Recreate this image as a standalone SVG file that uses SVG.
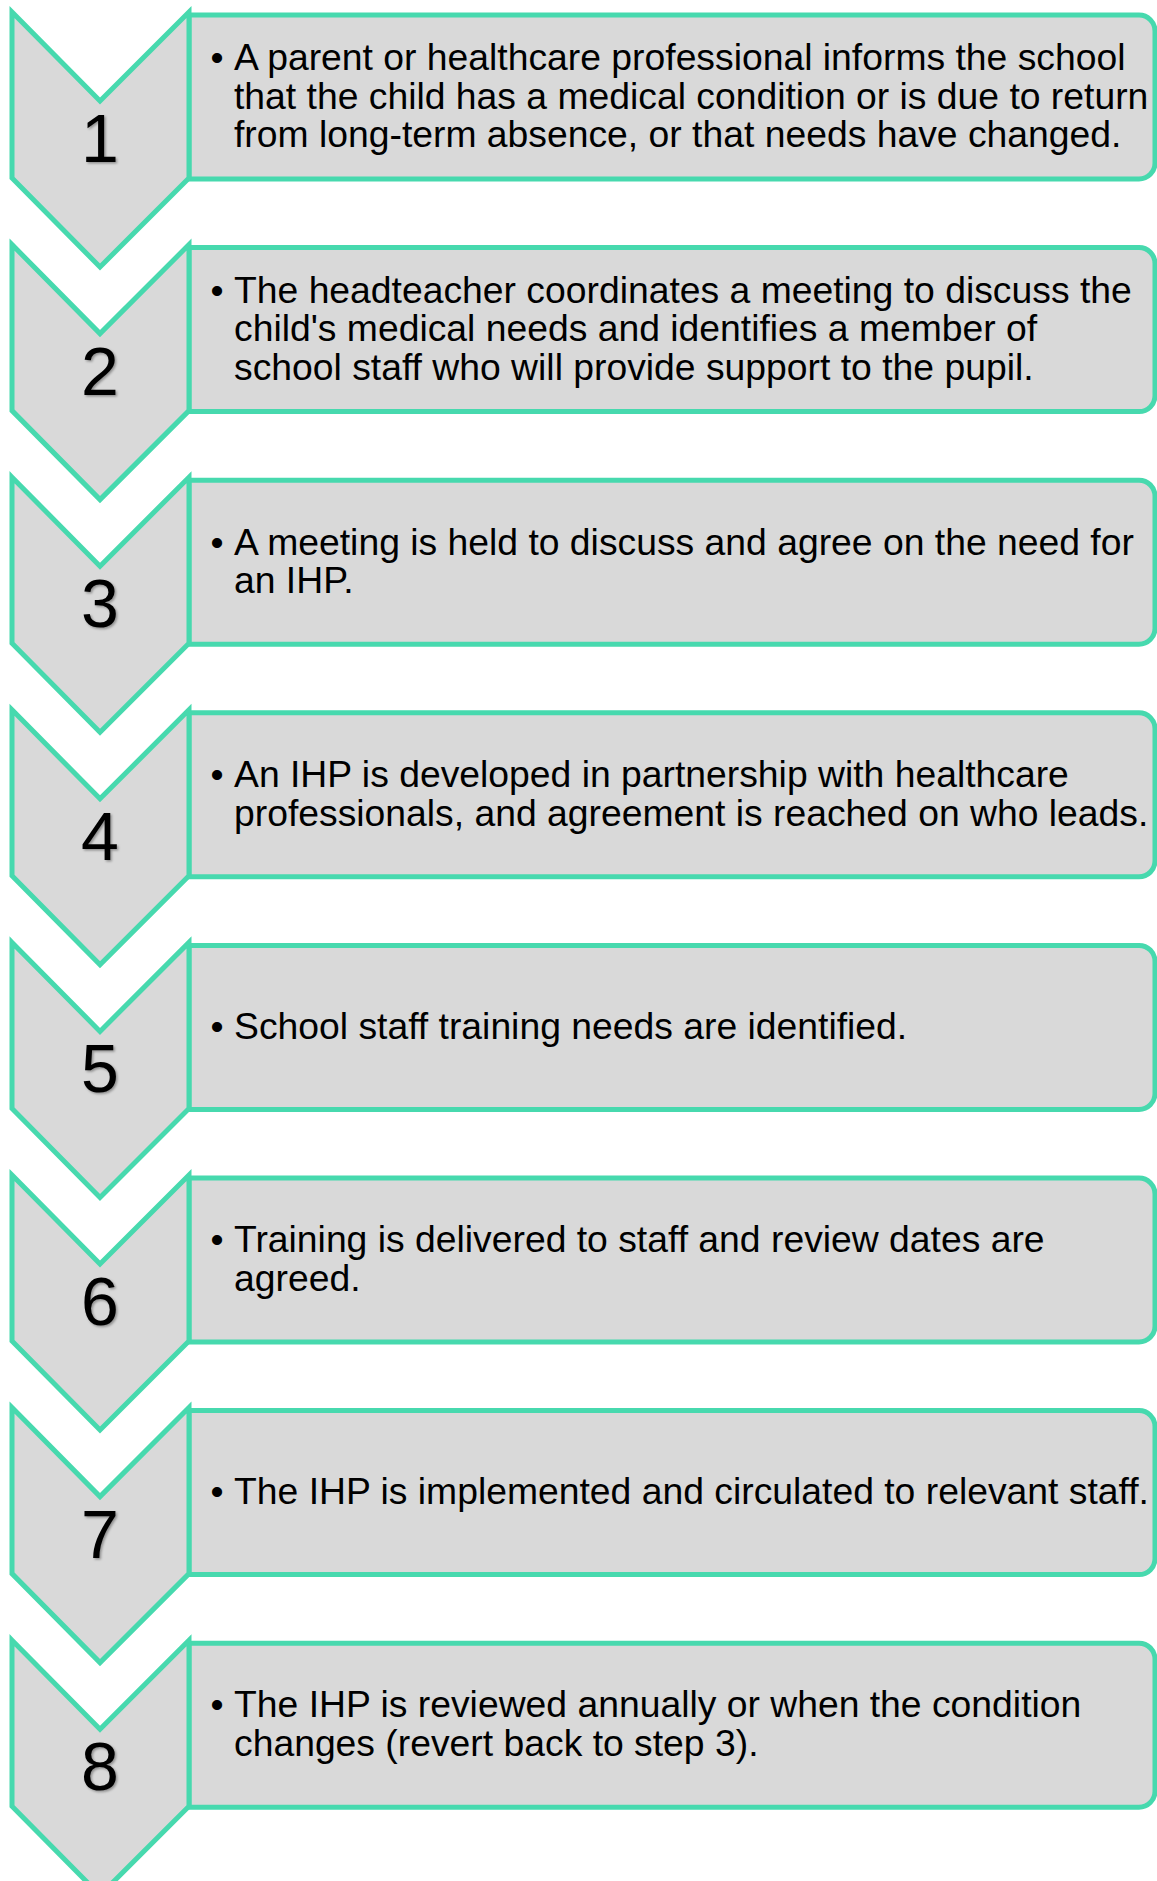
<svg xmlns="http://www.w3.org/2000/svg" xmlns:xlink="http://www.w3.org/1999/xlink" width="1157" height="1881" viewBox="0 0 1157 1881">
<style>
.shape{fill:#D9D9D9;stroke:#47D9AE;stroke-width:5;stroke-linejoin:miter}
.num{font-family:"Liberation Sans",Arial,sans-serif;font-size:68px;fill:#000;text-anchor:middle;filter:url(#sh)}
.t{font-family:"Liberation Sans",Arial,sans-serif;font-size:37.3px;fill:#000}
.b{font-family:"Liberation Sans",Arial,sans-serif;font-size:37.3px;fill:#000;text-anchor:middle}
</style>
<defs>
<filter id="sh" x="-20%" y="-20%" width="140%" height="140%">
<feDropShadow dx="1.5" dy="1.5" stdDeviation="1" flood-color="#000" flood-opacity="0.35"/>
</filter>
<path id="box" d="M189,3 H1139 A16,16 0 0 1 1155,19 V151 A16,16 0 0 1 1139,167 H189 Z"/>
<path id="chev" d="M12,0 L100,89 L189,0 L189,166 L100,255 L12,166 Z"/>
</defs>
<rect width="1157" height="1881" fill="#fff"/>

<g id="step1" transform="translate(0,12)">
<use xlink:href="#box" class="shape"/>
<use xlink:href="#chev" class="shape"/>
</g>
<g id="step2" transform="translate(0,244.6)">
<use xlink:href="#box" class="shape"/>
<use xlink:href="#chev" class="shape"/>
</g>
<g id="step3" transform="translate(0,477.2)">
<use xlink:href="#box" class="shape"/>
<use xlink:href="#chev" class="shape"/>
</g>
<g id="step4" transform="translate(0,709.8)">
<use xlink:href="#box" class="shape"/>
<use xlink:href="#chev" class="shape"/>
</g>
<g id="step5" transform="translate(0,942.4)">
<use xlink:href="#box" class="shape"/>
<use xlink:href="#chev" class="shape"/>
</g>
<g id="step6" transform="translate(0,1175)">
<use xlink:href="#box" class="shape"/>
<use xlink:href="#chev" class="shape"/>
</g>
<g id="step7" transform="translate(0,1407.6)">
<use xlink:href="#box" class="shape"/>
<use xlink:href="#chev" class="shape"/>
</g>
<g id="step8" transform="translate(0,1640.2)">
<use xlink:href="#box" class="shape"/>
<use xlink:href="#chev" class="shape"/>
</g>

<g id="labels1">
<text class="num" x="100" y="162">1</text>
<text class="b" x="217" y="70">•</text>
<text class="t" x="234" y="70">A parent or healthcare professional informs the school</text>
<text class="t" x="234" y="108.5">that the child has a medical condition or is due to return</text>
<text class="t" x="234" y="147">from long-term absence, or that needs have changed.</text>
</g>
<g id="labels2">
<text class="num" x="100" y="394.6">2</text>
<text class="b" x="217" y="302.6">•</text>
<text class="t" x="234" y="302.6">The headteacher coordinates a meeting to discuss the</text>
<text class="t" x="234" y="341.1">child's medical needs and identifies a member of</text>
<text class="t" x="234" y="379.6">school staff who will provide support to the pupil.</text>
</g>
<g id="labels3">
<text class="num" x="100" y="627.2">3</text>
<text class="b" x="217" y="554.5">•</text>
<text class="t" x="234" y="554.5">A meeting is held to discuss and agree on the need for</text>
<text class="t" x="234" y="593">an IHP.</text>
</g>
<g id="labels4">
<text class="num" x="100" y="859.8">4</text>
<text class="b" x="217" y="787">•</text>
<text class="t" x="234" y="787">An IHP is developed in partnership with healthcare</text>
<text class="t" x="234" y="825.5">professionals, and agreement is reached on who leads.</text>
</g>
<g id="labels5">
<text class="num" x="100" y="1092.4">5</text>
<text class="b" x="217" y="1039">•</text>
<text class="t" x="234" y="1039">School staff training needs are identified.</text>
</g>
<g id="labels6">
<text class="num" x="100" y="1325">6</text>
<text class="b" x="217" y="1252.2">•</text>
<text class="t" x="234" y="1252.2">Training is delivered to staff and review dates are</text>
<text class="t" x="234" y="1290.7">agreed.</text>
</g>
<g id="labels7">
<text class="num" x="100" y="1557.6">7</text>
<text class="b" x="217" y="1504">•</text>
<text class="t" x="234" y="1504">The IHP is implemented and circulated to relevant staff.</text>
</g>
<g id="labels8">
<text class="num" x="100" y="1790.2">8</text>
<text class="b" x="217" y="1717.4">•</text>
<text class="t" x="234" y="1717.4">The IHP is reviewed annually or when the condition</text>
<text class="t" x="234" y="1755.9">changes (revert back to step 3).</text>
</g>
<g id="connectors"/>
</svg>
